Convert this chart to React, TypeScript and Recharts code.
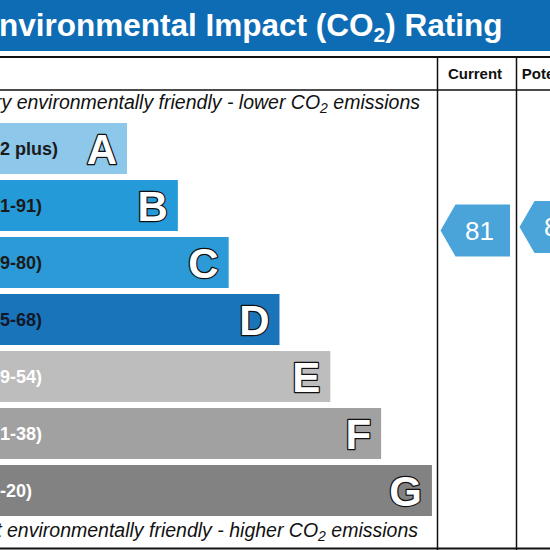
import { BarChart, Bar, XAxis, YAxis, ScatterChart, Scatter } from 'recharts';

// rating bands, top (best) to bottom (worst)
const bands = ['A', 'B', 'C', 'D', 'E', 'F', 'G'];
const bandRanges = ['(92 plus)', '(81-91)', '(69-80)', '(55-68)', '(39-54)', '(21-38)', '(1-20)'];
const bandLengths = [2.5, 3.5, 4.5, 5.5, 6.5, 7.5, 8.5];
const bandColors = ['#8dc7ea', '#249bd8', '#2c9ad6', '#1a74ba', '#bdbdbd', '#a1a1a1', '#828282'];
const rangeTextColors = ['#1a1a1a', '#1a1a1a', '#1a1a1a', '#111827', '#ffffff', '#ffffff', '#ffffff'];

const ratingColumns = ['Current', 'Potential'];
const ratingValues = [81, 82];

const bandData = bands.map((band, i) => ({
  band,
  range: bandRanges[i],
  length: bandLengths[i],
  fill: bandColors[i],
  textFill: rangeTextColors[i],
}));

const ratingData = ratingColumns.map((column, i) => ({ column, rating: ratingValues[i] }));

const FONT = 'Arial, "Liberation Sans", sans-serif';

const BandShape = (props: any) => {
  const { x, y, width, height, payload } = props;
  const cy = y + height / 2;
  return (
    <g>
      <rect x={x} y={y} width={width} height={height} fill={payload.fill} />
      <text x={x - 16} y={cy + 6.5} fontSize={18} fontWeight="bold" fill={payload.textFill} fontFamily={FONT}>
        {payload.range}
      </text>
      <text
        x={x + width - 10}
        y={cy + 15}
        textAnchor="end"
        fontSize={42}
        fontWeight="bold"
        fill="#ffffff"
        stroke="#111111"
        strokeWidth={2.5}
        paintOrder="stroke"
        strokeLinejoin="round"
        fontFamily={FONT}
      >
        {payload.band}
      </text>
    </g>
  );
};

const ArrowShape = (props: any) => {
  const { cx, cy, payload } = props;
  const pts = [
    [cx - 36, cy],
    [cx - 21, cy - 26],
    [cx + 33.5, cy - 26],
    [cx + 33.5, cy + 26],
    [cx - 21, cy + 26],
  ]
    .map((p) => p.join(','))
    .join(' ');
  return (
    <g>
      <polygon points={pts} fill="#4aa4d9" />
      <text x={cx + 3} y={cy + 9.5} textAnchor="middle" fontSize={26} fill="#ffffff" fontFamily={FONT}>
        {payload.rating}
      </text>
    </g>
  );
};

export default function App() {
  return (
    <div
      style={{
        position: 'absolute',
        left: 0,
        top: 0,
        width: 550,
        height: 550,
        overflow: 'hidden',
        background: '#ffffff',
        fontFamily: FONT,
      }}
    >
      <svg width={550} height={550} style={{ position: 'absolute', left: 0, top: 0 }}>
        <rect x={0} y={0} width={550} height={51} fill="#0e6cb5" />
        <text x={-22} y={36} fontSize={31.5} fontWeight="bold" fill="#ffffff" fontFamily={FONT}>
          Environmental Impact (CO
          <tspan fontSize={21} dy={6}>2</tspan>
          <tspan dy={-6}>) Rating</tspan>
        </text>
        <line x1={0} x2={550} y1={57} y2={57} stroke="#111" strokeWidth={2} />
        <line x1={0} x2={550} y1={90} y2={90} stroke="#111" strokeWidth={1.5} />
        <line x1={0} x2={550} y1={548.5} y2={548.5} stroke="#111" strokeWidth={2} />
        <line x1={437.5} x2={437.5} y1={57} y2={550} stroke="#111" strokeWidth={1.5} />
        <line x1={516.5} x2={516.5} y1={57} y2={550} stroke="#111" strokeWidth={1.5} />
        <text x={475} y={79} textAnchor="middle" fontSize={15} fontWeight="bold" fill="#111" fontFamily={FONT}>
          Current
        </text>
        <text x={553.5} y={79} textAnchor="middle" fontSize={15} fontWeight="bold" fill="#111" fontFamily={FONT}>
          Potential
        </text>
        <text x={420} y={109} textAnchor="end" fontSize={19.5} fontStyle="italic" fill="#111" fontFamily={FONT}>
          Very environmentally friendly - lower CO
          <tspan fontSize={14} dy={4}>2</tspan>
          <tspan dy={-4}> emissions</tspan>
        </text>
        <text x={418} y={537} textAnchor="end" fontSize={19.5} fontStyle="italic" fill="#111" fontFamily={FONT}>
          Not environmentally friendly - higher CO
          <tspan fontSize={14} dy={4}>2</tspan>
          <tspan dy={-4}> emissions</tspan>
        </text>
      </svg>

      <div style={{ position: 'absolute', left: 0, top: 0 }}>
        <BarChart
          width={550}
          height={550}
          layout="vertical"
          data={bandData}
          margin={{ top: 120, right: 113, bottom: 31, left: 0 }}
          barSize={51}
        >
          <XAxis type="number" domain={[0, 8.6]} hide />
          <YAxis type="category" dataKey="band" hide width={0} />
          <Bar dataKey="length" shape={BandShape} isAnimationActive={false} />
        </BarChart>
      </div>

      <div style={{ position: 'absolute', left: 437, top: 0 }}>
        <ScatterChart width={158} height={550} margin={{ top: 120, right: 0, bottom: 31, left: 0 }}>
          <XAxis type="category" dataKey="column" hide allowDuplicatedCategory={false} />
          <YAxis type="number" dataKey="rating" domain={[0, 112]} hide width={0} />
          <Scatter data={ratingData} shape={ArrowShape} isAnimationActive={false} />
        </ScatterChart>
      </div>
    </div>
  );
}
